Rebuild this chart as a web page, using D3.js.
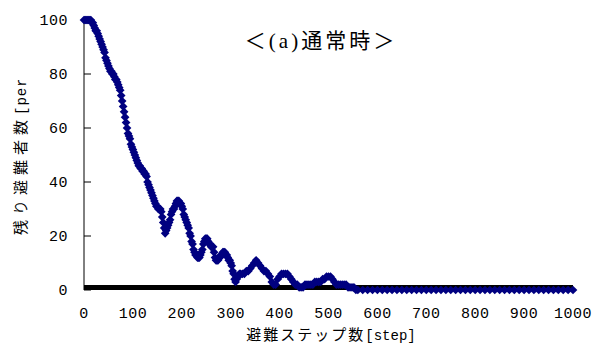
<!DOCTYPE html>
<html lang="ja">
<head>
  <meta charset="UTF-8">
  <title>残り避難者数</title>
  <script src="https://cdn.jsdelivr.net/npm/d3@7"></script>
  <style>
    body {
      margin: 0;
      background: #fff;
    }
    .tick-label {
      font-family: "Liberation Mono", "DejaVu Sans Mono", monospace;
      font-size: 15px;
      letter-spacing: 0.5px;
      fill: #000;
    }
    .title {
      font-family: "Liberation Serif", "Noto Sans CJK JP", serif;
      font-size: 21px;
      letter-spacing: 3px;
      fill: #000;
    }
    .axis-title {
      font-family: "Noto Sans CJK JP", sans-serif;
      font-size: 15px;
      fill: #000;
    }
    .axis-title .ascii {
      font-family: "Liberation Mono", monospace;
      font-size: 14px;
    }
  </style>
</head>
<body>
  <div id="chart"></div>

  <script>
    // remaining evacuees [persons] in three stretches

    // steps 0..320, every 2 steps
    const startA = 0, intervalA = 2;
    const remainingA = [
      100, 100, 100, 100, 100, 100, 100, 100, 99, 99,
      98, 97, 96, 96, 95, 94, 93, 92, 91, 90,
      89, 88, 86, 85, 84, 83, 82, 81, 81, 80,
      80, 79, 78, 78, 77, 76, 75, 74, 72, 70,
      68, 66, 64, 62, 60, 58, 57, 56, 54, 53,
      52, 51, 50, 49, 48, 47, 46, 46, 45, 45,
      44, 44, 43, 43, 42, 40, 39, 38, 37, 36,
      35, 34, 33, 32, 31, 31, 30, 30, 30, 29,
      27, 25, 23, 21, 22, 23, 24, 25, 26, 28,
      29, 30, 30, 31, 32, 33, 33, 33, 32, 32,
      31, 30, 28, 27, 26, 25, 24, 23, 21, 20,
      18, 17, 15, 14, 13, 13, 12, 12, 12, 13,
      14, 15, 17, 18, 19, 19, 19, 18, 17, 17,
      16, 16, 16, 14, 12, 11, 11, 11, 12, 12,
      13, 13, 14, 14, 14, 13, 13, 12, 11, 11,
      10, 9, 7, 6, 4, 3, 4, 5, 5, 6,
      6
    ];

    // steps 324..560, every 4 steps
    const startB = 324, intervalB = 4;
    const remainingB = [
      6, 6, 7, 7, 8, 9, 10, 11, 10, 9,
      8, 7, 7, 6, 5, 3, 2, 2, 4, 5,
      6, 6, 6, 6, 5, 4, 3, 2, 2, 1,
      1, 1, 2, 2, 2, 2, 2, 3, 3, 3,
      3, 4, 4, 5, 5, 5, 4, 3, 2, 2,
      2, 2, 2, 2, 1, 1, 1, 1, 0, 0
    ];

    // steps 570..1000, every 10 steps
    const startC = 570, intervalC = 10;
    const remainingC = [
      0, 0, 0, 0, 0, 0, 0, 0, 0, 0,
      0, 0, 0, 0, 0, 0, 0, 0, 0, 0,
      0, 0, 0, 0, 0, 0, 0, 0, 0, 0,
      0, 0, 0, 0, 0, 0, 0, 0, 0, 0,
      0, 0, 0, 0
    ];

    // black zero series
    const zeroSteps = [0, 1000];
    const zeroValues = [0, 0];

    const xTicks = [0, 100, 200, 300, 400, 500, 600, 700, 800, 900, 1000];
    const yTicks = [0, 20, 40, 60, 80, 100];

    const titleText = "＜(a)通常時＞";
    const xLabelMain = "避難ステップ数";
    const xLabelUnit = "[step]";
    const yLabelMain = "残り避難者数";
    const yLabelUnit = "[persons]";

    const width = 595, height = 345;

    const x = d3.scaleLinear().domain([0, 1000]).range([84, 573]);
    const y = d3.scaleLinear().domain([0, 100]).range([290, 20]);

    const svg = d3.select("#chart").append("svg")
      .attr("width", width)
      .attr("height", height);

    // y axis line + inward ticks
    svg.append("line")
      .attr("x1", x(0)).attr("x2", x(0))
      .attr("y1", y(100) - 2).attr("y2", y(0))
      .attr("stroke", "#000").attr("stroke-width", 1);

    svg.selectAll(".ytick")
      .data(yTicks)
      .enter().append("line")
      .attr("class", "ytick")
      .attr("x1", x(0)).attr("x2", x(0) + 7)
      .attr("y1", d => y(d)).attr("y2", d => y(d))
      .attr("stroke", "#000");

    svg.selectAll(".ylab")
      .data(yTicks)
      .enter().append("text")
      .attr("class", "tick-label")
      .attr("x", x(0) - 16)
      .attr("y", d => y(d) + 5)
      .attr("text-anchor", "end")
      .text(d => d);

    svg.selectAll(".xlab")
      .data(xTicks)
      .enter().append("text")
      .attr("class", "tick-label")
      .attr("x", d => x(d))
      .attr("y", 318)
      .attr("text-anchor", "middle")
      .text(d => d);

    // black series along zero
    const zeroData = zeroSteps.map((s, i) => ({ step: s, value: zeroValues[i] }));
    svg.append("path")
      .datum(zeroData)
      .attr("d", d3.line().x(d => x(d.step)).y(d => y(d.value)))
      .attr("transform", "translate(0,-2.5)")
      .attr("stroke", "#000")
      .attr("stroke-width", 5)
      .attr("fill", "none");

    // remaining evacuees: navy diamond markers
    const toPoints = (vals, start, interval) =>
      vals.map((v, i) => ({ step: start + i * interval, value: v }));
    const data = [
      ...toPoints(remainingA, startA, intervalA),
      ...toPoints(remainingB, startB, intervalB),
      ...toPoints(remainingC, startC, intervalC)
    ];
    const diamond = d3.symbol().type(d3.symbolSquare).size(38);

    svg.selectAll(".pt")
      .data(data)
      .enter().append("path")
      .attr("class", "pt")
      .attr("d", diamond)
      .attr("transform", d => `translate(${x(d.step)},${y(d.value)}) rotate(45)`)
      .attr("fill", "#000080");

    // title
    svg.append("text")
      .attr("class", "title")
      .attr("x", 321)
      .attr("y", 48)
      .attr("text-anchor", "middle")
      .text(titleText);

    // x axis title
    const xt = svg.append("text")
      .attr("class", "axis-title")
      .attr("x", 331)
      .attr("y", 340)
      .attr("text-anchor", "middle");
    xt.append("tspan").attr("letter-spacing", "2px").text(xLabelMain);
    xt.append("tspan").attr("class", "ascii").attr("letter-spacing", "0px").text(xLabelUnit);

    // y axis title (clipped at the top like the original)
    svg.append("clipPath").attr("id", "yclip")
      .append("rect").attr("x", 0).attr("y", 80).attr("width", 60).attr("height", 200);

    const yt = svg.append("g")
      .attr("clip-path", "url(#yclip)")
      .append("text")
      .attr("class", "axis-title")
      .attr("transform", "translate(25.5,235) rotate(-90)")
      .attr("text-anchor", "start");
    yt.append("tspan").attr("letter-spacing", "5px").text(yLabelMain);
    yt.append("tspan").attr("class", "ascii").attr("letter-spacing", "1px").text(yLabelUnit);
  </script>
</body>
</html>
